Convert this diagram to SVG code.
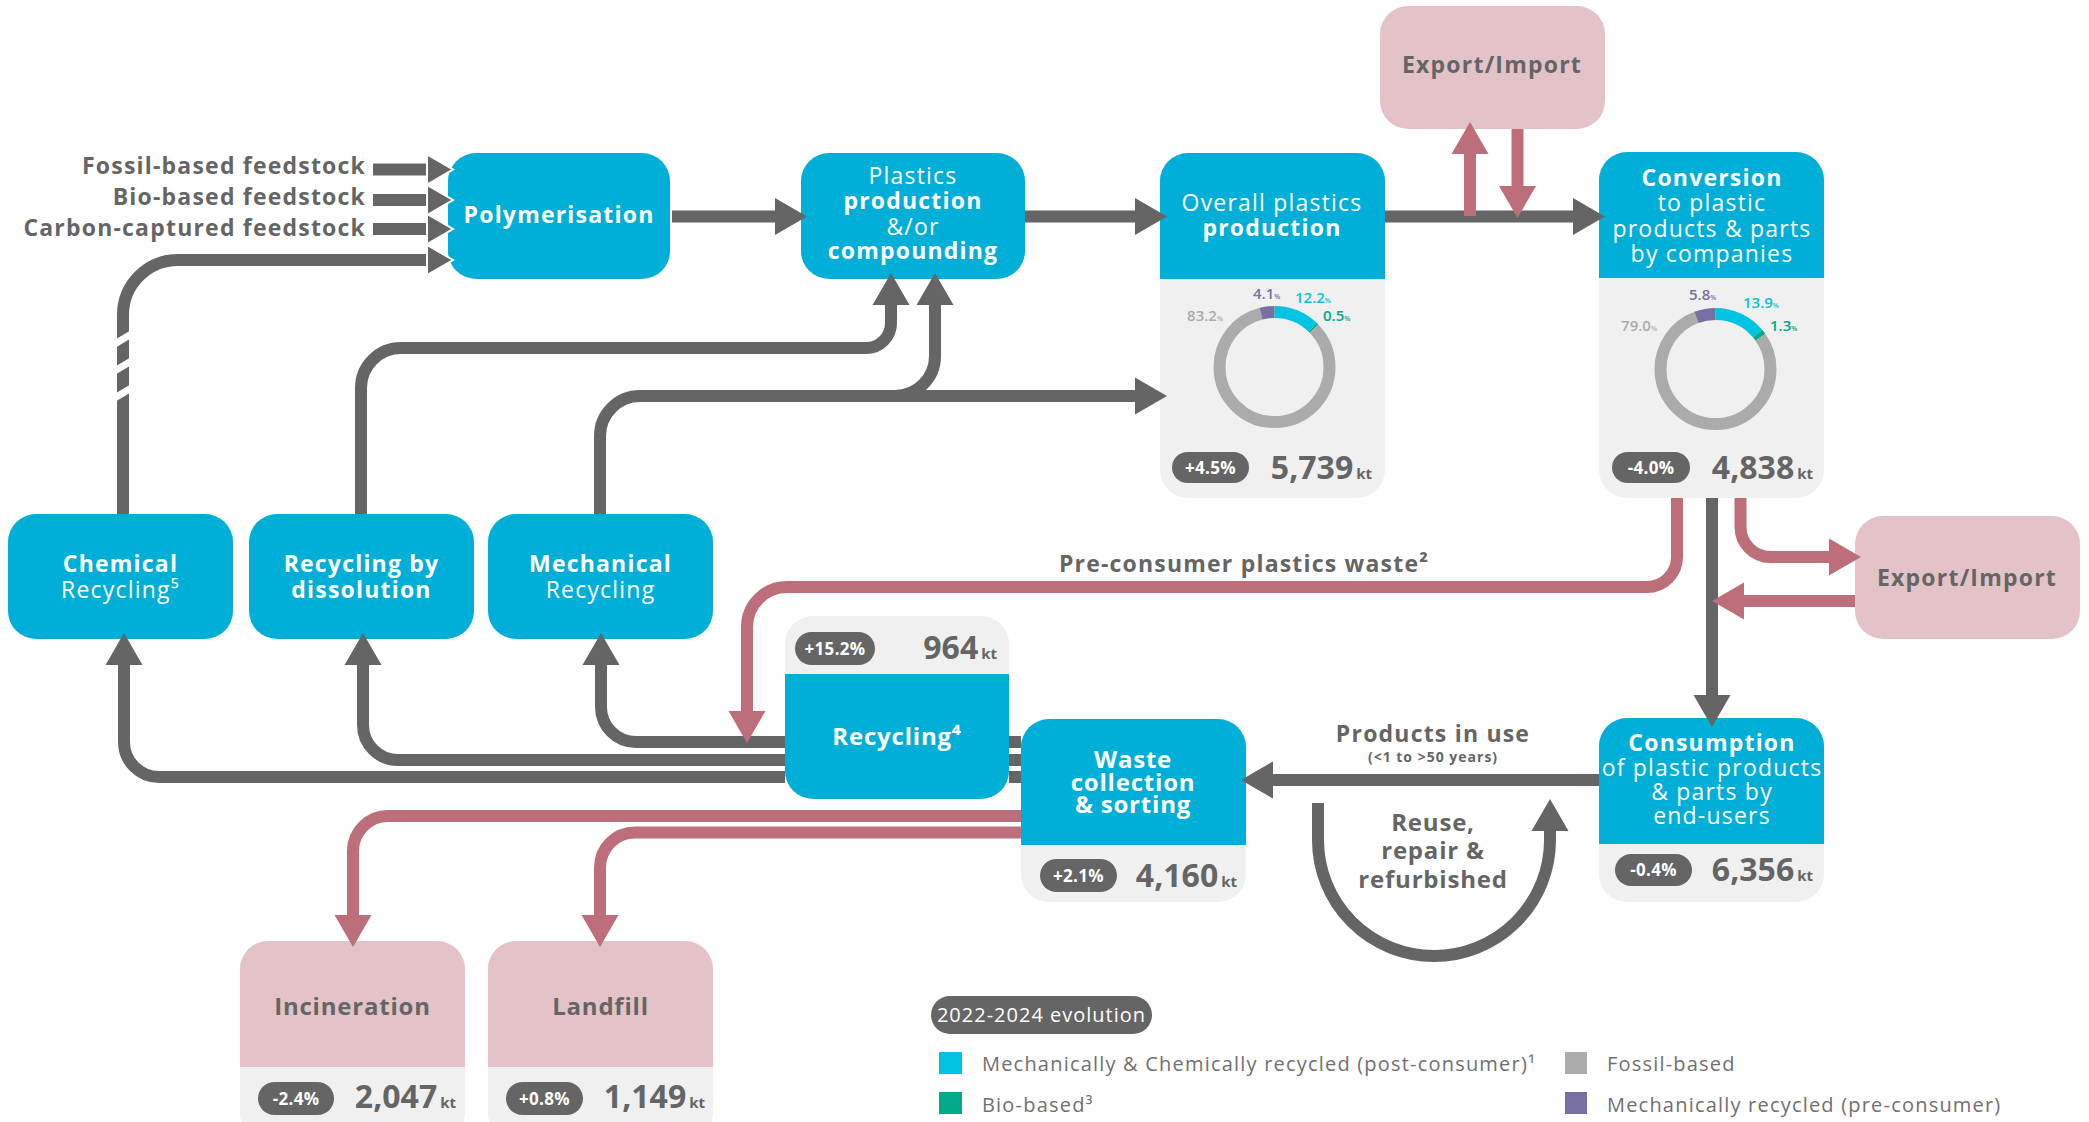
<svg xmlns="http://www.w3.org/2000/svg" width="2089" height="1122" viewBox="0 0 2089 1122">
<style>
text{font-family:'Open Sans','Liberation Sans','DejaVu Sans',sans-serif}
.b{font-weight:700}
.r{font-weight:400}
.w{fill:#fff}
.g{fill:#656565}
.c{text-anchor:middle}
.e{text-anchor:end}
.f23{font-size:23px;letter-spacing:1.2px}
.f24{font-size:24px;letter-spacing:0.8px}
.num{font-size:32px;font-weight:700;fill:#656565}
.kt{font-size:15px}
.pt{font-size:17px;font-weight:700;fill:#fff;text-anchor:middle;letter-spacing:0.3px}
.dl{font-size:15px;font-weight:600}
.pc{font-size:7px}
.lg{font-size:20px;fill:#707070;letter-spacing:1.2px}
.blue{fill:#00AFD7}
.panel{fill:#F0F0F0}
.pink{fill:#E3C3C8}
.pill{fill:#656565}
.cg{fill:none;stroke:#656565;stroke-width:12}
.cp{fill:none;stroke:#BC6E7A;stroke-width:12}
.ring{fill:none;stroke-width:12}
</style>
<defs>
<marker id="ag" markerUnits="userSpaceOnUse" markerWidth="34" markerHeight="38" refX="0" refY="18.5" orient="auto" overflow="visible"><path d="M0,0 L32,18.5 L0,37 Z" fill="#656565"/></marker>
<marker id="ap" markerUnits="userSpaceOnUse" markerWidth="34" markerHeight="38" refX="0" refY="18.5" orient="auto" overflow="visible"><path d="M0,0 L32,18.5 L0,37 Z" fill="#BC6E7A"/></marker>
<marker id="af" markerUnits="userSpaceOnUse" markerWidth="28" markerHeight="32" refX="0" refY="15" orient="auto" overflow="visible"><path d="M0,0 L26,15 L0,30 Z" fill="#656565" stroke="#fff" stroke-width="2"/></marker>
</defs>
<rect width="2089" height="1122" fill="#fff"/>

<g id="polymerisation">
<rect x="448" y="153" width="222" height="126" rx="28" class="blue"/>
<text x="559" y="223" class="b w c f23">Polymerisation</text>
</g>
<g id="plastics-production">
<rect x="801" y="153" width="224" height="126" rx="28" class="blue"/>
<text class="w c f23"><tspan x="913" y="184" class="r">Plastics</tspan><tspan x="913" y="209" class="b">production</tspan><tspan x="913" y="235" class="r">&amp;/or</tspan><tspan x="913" y="259" class="b">compounding</tspan></text>
</g>
<g id="overall-production">
<rect x="1160" y="153" width="225" height="345" rx="28" class="panel"/>
<path d="M1160,279 V181 A28,28 0 0 1 1188,153 H1357 A28,28 0 0 1 1385,181 V279 Z" class="blue"/>
<text class="w c f23"><tspan x="1272" y="211" class="r">Overall plastics</tspan><tspan x="1272" y="236" class="b">production</tspan></text>
<g transform="rotate(-90 1274.5 367)">
<circle cx="1274.5" cy="367" r="55" class="ring" stroke="#00C4E1" stroke-dasharray="42.16 303.42" stroke-dashoffset="0"/>
<circle cx="1274.5" cy="367" r="55" class="ring" stroke="#00A98A" stroke-dasharray="1.73 343.85" stroke-dashoffset="-42.16"/>
<circle cx="1274.5" cy="367" r="55" class="ring" stroke="#ABABAB" stroke-dasharray="287.52 58.06" stroke-dashoffset="-43.89"/>
<circle cx="1274.5" cy="367" r="55" class="ring" stroke="#7670A3" stroke-dasharray="14.17 331.41" stroke-dashoffset="-331.41"/>
</g>
<text x="1223" y="321" class="dl e" fill="#ABABAB">83.2<tspan class="pc">%</tspan></text>
<text x="1253" y="299" class="dl" fill="#7670A3">4.1<tspan class="pc">%</tspan></text>
<text x="1295" y="303" class="dl" fill="#00C4E1">12.2<tspan class="pc">%</tspan></text>
<text x="1323" y="321" class="dl" fill="#00A98A">0.5<tspan class="pc">%</tspan></text>
<rect x="1172" y="452" width="77" height="31" rx="15.5" class="pill"/>
<text x="1210.5" y="474" class="pt" font-size="18">+4.5%</text>
<text x="1372" y="479" class="num e">5,739<tspan class="kt" dx="3">kt</tspan></text>
</g>
<g id="conversion">
<rect x="1599" y="152" width="225" height="346" rx="28" class="panel"/>
<path d="M1599,278 V180 A28,28 0 0 1 1627,152 H1796 A28,28 0 0 1 1824,180 V278 Z" class="blue"/>
<text class="w c f23" font-size="24"><tspan x="1712" y="186" class="b">Conversion</tspan><tspan x="1712" y="211" class="r">to plastic</tspan><tspan x="1712" y="237" class="r">products &amp; parts</tspan><tspan x="1712" y="262" class="r">by companies</tspan></text>
<g transform="rotate(-90 1715.5 369)">
<circle cx="1715.5" cy="369" r="55" class="ring" stroke="#00C4E1" stroke-dasharray="48.03 297.54" stroke-dashoffset="0"/>
<circle cx="1715.5" cy="369" r="55" class="ring" stroke="#00A98A" stroke-dasharray="4.49 341.08" stroke-dashoffset="-48.03"/>
<circle cx="1715.5" cy="369" r="55" class="ring" stroke="#ABABAB" stroke-dasharray="273.0 72.57" stroke-dashoffset="-52.52"/>
<circle cx="1715.5" cy="369" r="55" class="ring" stroke="#7670A3" stroke-dasharray="20.04 325.53" stroke-dashoffset="-325.53"/>
</g>
<text x="1657" y="331" class="dl e" fill="#ABABAB">79.0<tspan class="pc">%</tspan></text>
<text x="1689" y="300" class="dl" fill="#7670A3">5.8<tspan class="pc">%</tspan></text>
<text x="1743" y="308" class="dl" fill="#00C4E1">13.9<tspan class="pc">%</tspan></text>
<text x="1770" y="331" class="dl" fill="#00A98A">1.3<tspan class="pc">%</tspan></text>
<rect x="1612" y="452" width="78" height="31" rx="15.5" class="pill"/>
<text x="1651" y="474" class="pt" font-size="18">-4.0%</text>
<text x="1813" y="479" class="num e">4,838<tspan class="kt" dx="3">kt</tspan></text>
</g>
<g id="export-import-top">
<rect x="1380" y="6" width="225" height="123" rx="28" class="pink"/>
<text x="1492" y="73" class="b g c f23" letter-spacing="0.7">Export/Import</text>
</g>
<g id="export-import-right">
<rect x="1855" y="516" width="225" height="123" rx="28" class="pink"/>
<text x="1967" y="586" class="b g c f23" letter-spacing="0.7">Export/Import</text>
</g>
<g id="chemical-recycling">
<rect x="8" y="514" width="225" height="125" rx="28" class="blue"/>
<text class="w c f23"><tspan x="120.5" y="572" class="b">Chemical</tspan><tspan x="120.5" y="598" class="r">Recycling⁵</tspan></text>
</g>
<g id="recycling-dissolution">
<rect x="249" y="514" width="225" height="125" rx="28" class="blue"/>
<text class="b w c f23" letter-spacing="0.8"><tspan x="361.5" y="572">Recycling by</tspan><tspan x="361.5" y="598">dissolution</tspan></text>
</g>
<g id="mechanical-recycling">
<rect x="488" y="514" width="225" height="125" rx="28" class="blue"/>
<text class="w c f23"><tspan x="600.5" y="572" class="b">Mechanical</tspan><tspan x="600.5" y="598" class="r">Recycling</tspan></text>
</g>
<g id="recycling">
<rect x="785" y="616" width="224" height="183" rx="28" class="panel"/>
<path d="M785,674 H1009 V771 A28,28 0 0 1 981,799 H813 A28,28 0 0 1 785,771 Z" class="blue"/>
<rect x="795" y="632" width="80" height="33" rx="16.5" class="pill"/>
<text x="835" y="655" class="pt">+15.2%</text>
<text x="997" y="659" class="num e">964<tspan class="kt" dx="3">kt</tspan></text>
<text x="897" y="745" class="b w c f24">Recycling⁴</text>
</g>
<g id="waste-collection">
<rect x="1021" y="719" width="225" height="183" rx="28" class="panel"/>
<path d="M1021,845 V747 A28,28 0 0 1 1049,719 H1218 A28,28 0 0 1 1246,747 V845 Z" class="blue"/>
<text class="b w c f24"><tspan x="1133" y="768">Waste</tspan><tspan x="1133" y="791">collection</tspan><tspan x="1133" y="813">&amp; sorting</tspan></text>
<rect x="1040" y="859" width="77" height="33" rx="16.5" class="pill"/>
<text x="1078.5" y="882" class="pt">+2.1%</text>
<text x="1237" y="887" class="num e">4,160<tspan class="kt" dx="3">kt</tspan></text>
</g>
<g id="consumption">
<rect x="1599" y="718" width="225" height="184" rx="28" class="panel"/>
<path d="M1599,844 V746 A28,28 0 0 1 1627,718 H1796 A28,28 0 0 1 1824,746 V844 Z" class="blue"/>
<text class="w c f23" letter-spacing="0.5"><tspan x="1712" y="751" class="b">Consumption</tspan><tspan x="1712" y="776" class="r">of plastic products</tspan><tspan x="1712" y="800" class="r">&amp; parts by</tspan><tspan x="1712" y="824" class="r">end-users</tspan></text>
<rect x="1615" y="854" width="77" height="32" rx="16" class="pill"/>
<text x="1653.5" y="876" class="pt">-0.4%</text>
<text x="1813" y="881" class="num e">6,356<tspan class="kt" dx="3">kt</tspan></text>
</g>
<g id="incineration">
<rect x="240" y="941" width="225" height="200" rx="28" class="panel"/>
<path d="M240,1067 V969 A28,28 0 0 1 268,941 H437 A28,28 0 0 1 465,969 V1067 Z" class="pink"/>
<text x="352.5" y="1015" class="b g c f24">Incineration</text>
<rect x="258" y="1082" width="76" height="33" rx="16.5" class="pill"/>
<text x="296" y="1105" class="pt">-2.4%</text>
<text x="456" y="1108" class="num e">2,047<tspan class="kt" dx="3">kt</tspan></text>
</g>
<g id="landfill">
<rect x="488" y="941" width="225" height="200" rx="28" class="panel"/>
<path d="M488,1067 V969 A28,28 0 0 1 516,941 H685 A28,28 0 0 1 713,969 V1067 Z" class="pink"/>
<text x="600.5" y="1015" class="b g c f24">Landfill</text>
<rect x="506" y="1082" width="77" height="33" rx="16.5" class="pill"/>
<text x="544.5" y="1105" class="pt">+0.8%</text>
<text x="705" y="1108" class="num e">1,149<tspan class="kt" dx="3">kt</tspan></text>
</g>

<g id="connectors">
<path class="cg" d="M373,169.5 H427" marker-end="url(#af)"/>
<path class="cg" d="M373,200 H427" marker-end="url(#af)"/>
<path class="cg" d="M373,229 H427" marker-end="url(#af)"/>
<path class="cg" d="M123,514 V315 A55,55 0 0 1 178,260 H427" marker-end="url(#af)"/>
<path d="M113,345 L133,333 M113,372 L133,360 M113,399 L133,387" stroke="#fff" stroke-width="7" fill="none"/>
<path class="cg" d="M672,216.5 H775" marker-end="url(#ag)"/>
<path class="cg" d="M1025,216.5 H1135" marker-end="url(#ag)"/>
<path class="cg" d="M1385,216.5 H1573" marker-end="url(#ag)"/>
<path class="cg" d="M361,514 V388 A40,40 0 0 1 401,348 H866 A25,25 0 0 0 891,323 V305" marker-end="url(#ag)"/>
<path class="cg" d="M600,514 V436 A40,40 0 0 1 640,396 H1135" marker-end="url(#ag)"/>
<path class="cg" d="M895,396 A40,40 0 0 0 935,356 V305" marker-end="url(#ag)"/>
<path class="cg" d="M1712,498 V695" marker-end="url(#ag)"/>
<path class="cg" d="M1599,780 H1273" marker-end="url(#ag)"/>
<path class="cg" d="M1318,803 V840 A116,116 0 0 0 1550,840 V831" marker-end="url(#ag)"/>
<path class="cg" d="M1021,742 H1009 M785,742 H636 A35,35 0 0 1 601,707 V665" marker-end="url(#ag)"/>
<path class="cg" d="M1021,760 H1009 M785,760 H398 A35,35 0 0 1 363,725 V665" marker-end="url(#ag)"/>
<path class="cg" d="M1021,777 H1009 M785,777 H159 A35,35 0 0 1 124,742 V665" marker-end="url(#ag)"/>
<path class="cp" d="M1470,216 V154" marker-end="url(#ap)"/>
<path class="cp" d="M1517.5,129 V186" marker-end="url(#ap)"/>
<path class="cp" d="M1677,498 V557 A30,30 0 0 1 1647,587 H787 A40,40 0 0 0 747,627 V711" marker-end="url(#ap)"/>
<path class="cp" d="M1740.5,498 V527 A30,30 0 0 0 1770.5,557 H1829" marker-end="url(#ap)"/>
<path class="cp" d="M1855,601 H1744" marker-end="url(#ap)"/>
<path class="cp" d="M1021,816 H388 A35,35 0 0 0 353,851 V915" marker-end="url(#ap)"/>
<path class="cp" d="M1021,832.5 H635 A35,35 0 0 0 600,867.5 V915" marker-end="url(#ap)"/>
</g>

<g id="labels">
<text class="b g e f23" letter-spacing="1.6"><tspan x="366" y="174">Fossil-based feedstock</tspan><tspan x="366" y="205">Bio-based feedstock</tspan><tspan x="366" y="236">Carbon-captured feedstock</tspan></text>
<text x="1244" y="572" class="b g c f23" letter-spacing="1.4">Pre-consumer plastics waste²</text>
<text x="1433" y="742" class="b g c f23">Products in use</text>
<text x="1433" y="762" class="b g c" font-size="14" letter-spacing="1">(&lt;1 to &gt;50 years)</text>
<text class="b g c f24" letter-spacing="0.5"><tspan x="1433" y="831">Reuse,</tspan><tspan x="1433" y="859">repair &amp;</tspan><tspan x="1433" y="888">refurbished</tspan></text>
</g>

<g id="legend">
<rect x="931" y="996" width="221" height="38" rx="19" class="pill"/>
<text x="1041.5" y="1022" class="w c" font-size="20" letter-spacing="1">2022-2024 evolution</text>
<rect x="939" y="1052" width="23" height="22" fill="#00C4E1"/>
<text x="982" y="1071" class="lg">Mechanically &amp; Chemically recycled (post-consumer)¹</text>
<rect x="939" y="1092" width="23" height="22" fill="#00A98A"/>
<text x="982" y="1112" class="lg">Bio-based³</text>
<rect x="1565" y="1052" width="22" height="22" fill="#ABABAB"/>
<text x="1607" y="1071" class="lg">Fossil-based</text>
<rect x="1565" y="1092" width="22" height="22" fill="#7670A3"/>
<text x="1607" y="1112" class="lg">Mechanically recycled (pre-consumer)</text>
</g>
</svg>
